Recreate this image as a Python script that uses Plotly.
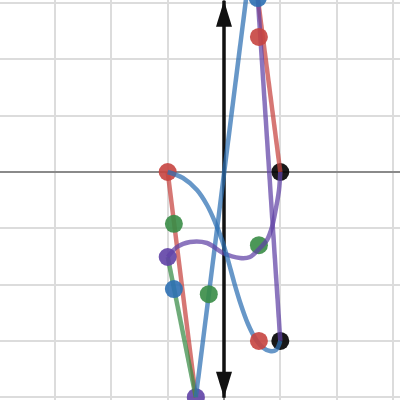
import plotly.graph_objects as go

# ---- data (graph units) ----
RED, BLUE, GREEN, PURPLE, BLACK = "#c74440", "#2d70b3", "#388c46", "#6042a6", "#000000"

# vertical double arrow (vector along x = 0)
arrow_x = [0.0, 0.0]
arrow_y = [-4.01, 3.04]

# straight segments
red_seg1_x = [-1.0, -0.5]
red_seg1_y = [0.0, -4.0]
red_seg2_x = [1.0, 0.6]
red_seg2_y = [0.0, 3.09]
green_seg_x = [-1.0, -0.5]
green_seg_y = [-1.51, -4.0]
blue_seg_x = [-0.5, 0.42]
blue_seg_y = [-4.0, 3.3]
purple_seg_x = [1.0, 0.6]
purple_seg_y = [-3.0, 3.09]

# curves (traced)
blue_curve_x = [-1.0, -0.728, -0.48, -0.302, -0.16, -0.036, 0.071, 0.178, 0.302, 0.426, 0.551, 0.675, 0.817, 0.924, 1.0]
blue_curve_y = [0.0, -0.107, -0.32, -0.586, -0.888, -1.208, -1.563, -1.954, -2.362, -2.7, -2.949, -3.108, -3.179, -3.162, -3.0]
purple_curve_x = [-1.0, -0.835, -0.604, -0.302, -0.018, 0.284, 0.462, 0.639, 0.764, 0.853, 0.924, 0.977, 1.0]
purple_curve_y = [-1.51, -1.332, -1.243, -1.261, -1.439, -1.528, -1.51, -1.35, -1.208, -0.977, -0.639, -0.32, 0.0]

# points drawn beneath the lines
under_x = [1.0, 1.0, -0.5, -1.0, 0.62]
under_y = [0.0, -3.0, -4.0, 0.0, -1.3]
under_c = [BLACK, BLACK, PURPLE, RED, GREEN]
# points drawn above the lines
over_x = [-0.89, -1.0, -0.89, -0.27, 0.62, 0.62, 0.6]
over_y = [-0.92, -1.51, -2.08, -2.17, -3.0, 2.4, 3.09]
over_c = [GREEN, PURPLE, BLUE, GREEN, RED, RED, BLUE]

# ---- styling ----
PX_PER_UNIT = 56.3
HEAD_LEN = 26 / PX_PER_UNIT
HEAD_HALF = 8 / PX_PER_UNIT
LW = 4.5
LOP = 0.72

fig = go.Figure()

# arrow shaft
fig.add_trace(go.Scatter(x=arrow_x, y=arrow_y, mode="lines",
                         line=dict(color="#111111", width=3.5), hoverinfo="skip"))
# arrow heads
shapes = []
for tipy, sgn in [(arrow_y[1], 1), (arrow_y[0], -1)]:
    bx = arrow_x[0]
    shapes.append(dict(type="path", xref="x", yref="y",
                       path=f"M {bx} {tipy} L {bx - HEAD_HALF} {tipy - sgn*HEAD_LEN} "
                            f"L {bx + HEAD_HALF} {tipy - sgn*HEAD_LEN} Z",
                       fillcolor="#111111", line=dict(width=0)))

fig.add_trace(go.Scatter(x=under_x, y=under_y, mode="markers",
                         marker=dict(size=18, color=under_c, opacity=0.9, line=dict(width=0)),
                         hoverinfo="skip"))

def seg(x, y, c, shape="linear"):
    fig.add_trace(go.Scatter(x=x, y=y, mode="lines", opacity=LOP,
                             line=dict(color=c, width=LW, shape=shape, smoothing=1.0),
                             hoverinfo="skip"))

seg(red_seg1_x, red_seg1_y, RED)
seg(red_seg2_x, red_seg2_y, RED)
seg(green_seg_x, green_seg_y, GREEN)
seg(blue_seg_x, blue_seg_y, BLUE)
seg(purple_seg_x, purple_seg_y, PURPLE)
seg(purple_curve_x, purple_curve_y, PURPLE, "spline")
seg(blue_curve_x, blue_curve_y, BLUE, "spline")

fig.add_trace(go.Scatter(x=over_x, y=over_y, mode="markers",
                         marker=dict(size=18, color=over_c, opacity=0.9, line=dict(width=0)),
                         hoverinfo="skip"))

x0 = -224 / PX_PER_UNIT
x1 = 176 / PX_PER_UNIT
y0 = -228 / PX_PER_UNIT
y1 = 172 / PX_PER_UNIT

axis_common = dict(showticklabels=False, ticks="", dtick=1, tick0=0,
                   showgrid=True, gridcolor="#dcdcdc", gridwidth=1.5,
                   zeroline=True, zerolinecolor="#8a8a8a", zerolinewidth=1.5,
                   showline=False, fixedrange=True)
fig.update_layout(
    width=400, height=400, margin=dict(l=0, r=0, t=0, b=0),
    paper_bgcolor="white", plot_bgcolor="white", showlegend=False,
    xaxis=dict(range=[x0, x1], **axis_common),
    yaxis=dict(range=[y0, y1], **axis_common),
    shapes=shapes,
)
fig.write_html("out.html", config={"displayModeBar": False},
               post_script="document.body.style.margin='0';document.body.style.overflow='hidden';")
